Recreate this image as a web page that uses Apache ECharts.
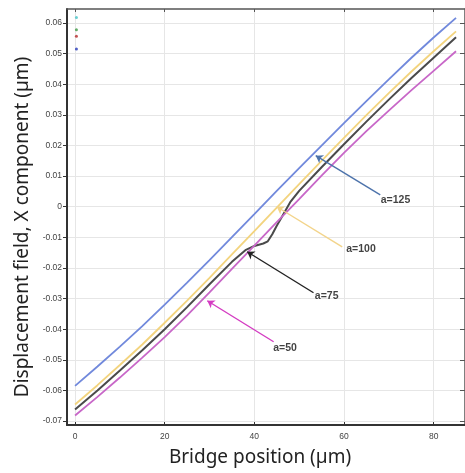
<!DOCTYPE html>
<html>
<head>
<meta charset="utf-8">
<title>Displacement field</title>
<script src="https://cdn.jsdelivr.net/npm/echarts@6/dist/echarts.min.js"></script>
<style>
  html, body { margin: 0; padding: 0; background: #fff; }
  #chart { width: 465px; height: 473px; }
</style>
</head>
<body>
<div id="chart"></div>
<script>
// values
var xPos = [0, 5, 10, 15, 20, 25, 30, 35, 40, 45, 50, 55, 60, 65, 70, 75, 80, 85];
var a125 = [-0.0585, -0.0522, -0.0457, -0.0390, -0.0320, -0.0248, -0.0174, -0.0099, -0.0024, 0.0052, 0.0126, 0.0200, 0.0273, 0.0345, 0.0416, 0.0486, 0.0553, 0.0617];
var a100 = [-0.0646, -0.0583, -0.0517, -0.0450, -0.0379, -0.0307, -0.0232, -0.0156, -0.0080, -0.0003, 0.0074, 0.0150, 0.0225, 0.0299, 0.0371, 0.0441, 0.0508, 0.0573];
var a50  = [-0.0682, -0.0621, -0.0558, -0.0493, -0.0426, -0.0355, -0.0280, -0.0203, -0.0127, -0.0050, 0.0025, 0.0102, 0.0176, 0.0247, 0.0314, 0.0380, 0.0444, 0.0508];
// a=75 has a small kink near 40 um
var a75x = [0, 5, 10, 15, 20, 25, 30, 35, 38, 40, 42, 43, 44, 45, 46, 48, 50, 55, 60, 65, 70, 75, 80, 85];
var a75  = [-0.0662, -0.0600, -0.0535, -0.0469, -0.0400, -0.0328, -0.0253, -0.0180, -0.0142, -0.0128, -0.0120, -0.0113, -0.0090, -0.0062, -0.0037, 0.0015, 0.0052, 0.0129, 0.0204, 0.0278, 0.0350, 0.0420, 0.0487, 0.0554];

// small dots at top left
var dotVals = [0.0618, 0.0578, 0.0557, 0.0515];
var dotColors = ['#46c4c8', '#3c9a44', '#b42828', '#2638b8'];

// annotations
var annotText = ['a=125', 'a=100', 'a=75', 'a=50'];
var annotTail = [[68.1, 0.0039], [59.6, -0.0131], [53.2, -0.0281], [44.3, -0.0441]];
var annotHead = [[53.7, 0.0167], [45.0, 0.0000], [38.4, -0.0147], [29.5, -0.0307]];
var annotLabel = [[68.2, 0.0021], [60.5, -0.0139], [53.5, -0.0292], [44.2, -0.0462]];
var annotColor = ['#4d73ab', '#f3d48a', '#222222', '#d43cc2'];

var xTicks = [0, 20, 40, 60, 80];
var yTicks = [-0.07, -0.06, -0.05, -0.04, -0.03, -0.02, -0.01, 0, 0.01, 0.02, 0.03, 0.04, 0.05, 0.06];

function pairs(xs, ys) {
  return xs.map(function (x, i) { return [x, ys[i]]; });
}

var chart = echarts.init(document.getElementById('chart'));

var lineBase = {
  type: 'line',
  showSymbol: false,
  symbol: 'none',
  xAxisIndex: 0,
  yAxisIndex: 0,
  z: 3
};

var series = [
  Object.assign({}, lineBase, { name: 'a=125', data: pairs(xPos, a125), lineStyle: { color: '#7189dc', width: 1.8 } }),
  Object.assign({}, lineBase, { name: 'a=100', data: pairs(xPos, a100), lineStyle: { color: '#f3d47e', width: 1.8 } }),
  Object.assign({}, lineBase, { name: 'a=75', data: pairs(a75x, a75), lineStyle: { color: '#4a4a4a', width: 2 } }),
  Object.assign({}, lineBase, { name: 'a=50', data: pairs(xPos, a50), lineStyle: { color: '#c867c8', width: 1.8 } }),
  {
    type: 'scatter',
    symbolSize: 3,
    z: 4,
    data: dotVals.map(function (v, i) {
      return { value: [0.3, v], itemStyle: { color: dotColors[i] } };
    })
  },
  {
    type: 'scatter',
    symbolSize: 0,
    z: 5,
    data: annotLabel.map(function (p, i) { return { value: p, name: annotText[i] }; }),
    label: {
      show: true,
      position: 'right',
      distance: 0,
      formatter: '{b}',
      color: '#111',
      fontSize: 10.5,
      fontWeight: 'bold',
      fontFamily: 'Liberation Sans, Arial, sans-serif'
    },
    markLine: {
      silent: true,
      symbol: ['none', 'arrow'],
      symbolSize: 7,
      label: { show: false },
      animation: false,
      data: annotTail.map(function (t, i) {
        return [
          { coord: t, lineStyle: { color: annotColor[i], width: 1.4, type: 'solid' } },
          { coord: annotHead[i] }
        ];
      })
    }
  }
];

var labelFont = { fontSize: 8.5, color: '#444', fontFamily: 'Liberation Sans, Arial, sans-serif' };

var option = {
  animation: false,
  backgroundColor: '#fff',
  grid: { left: 67, right: -3, top: 9, bottom: 48 },
  xAxis: [{
    type: 'value',
    min: -1.8,
    max: 87,
    name: 'Bridge position (µm)',
    nameLocation: 'middle',
    nameGap: 23,
    nameTextStyle: { fontSize: 19, color: '#222', fontFamily: 'Noto Sans, Open Sans, sans-serif', padding: [0, 12, 0, 0] },
    axisLine: { show: true, onZero: false, lineStyle: { color: '#333', width: 2 } },
    axisTick: { show: true, inside: true, length: 3, customValues: xTicks, lineStyle: { color: '#333' } },
    axisLabel: Object.assign({ customValues: xTicks, margin: 7 }, labelFont),
    splitLine: { show: true, lineStyle: { color: '#e6e6e6', width: 1 } }
  }, {
    type: 'value',
    position: 'top',
    min: -1.8,
    max: 87,
    axisLine: { show: true, onZero: false, lineStyle: { color: '#555', width: 1.5 } },
    axisTick: { show: true, inside: true, length: 3, customValues: xTicks, lineStyle: { color: '#555' } },
    axisLabel: { show: false },
    splitLine: { show: false }
  }],
  yAxis: [{
    type: 'value',
    min: -0.0713,
    max: 0.0646,
    splitNumber: 14,
    name: 'Displacement field, X component (µm)',
    nameLocation: 'middle',
    nameGap: 30,
    nameTextStyle: { fontSize: 19, color: '#222', fontFamily: 'Noto Sans, Open Sans, sans-serif', padding: [0, 20, 0, 0] },
    axisLine: { show: true, onZero: false, lineStyle: { color: '#333', width: 2 } },
    axisTick: { show: true, inside: false, length: 4, customValues: yTicks, lineStyle: { color: '#333' } },
    axisLabel: Object.assign({
      customValues: yTicks,
      margin: 5,
      formatter: function (v) { return String(Math.round(v * 100) / 100); }
    }, labelFont),
    splitLine: { show: true, lineStyle: { color: '#e6e6e6', width: 1 } }
  }, {
    type: 'value',
    position: 'right',
    min: -0.0713,
    max: 0.0646,
    splitNumber: 14,
    axisLine: { show: true, onZero: false, lineStyle: { color: '#555', width: 1.5 } },
    axisTick: { show: true, inside: true, length: 5, customValues: yTicks, lineStyle: { color: '#555' } },
    axisLabel: { show: false },
    splitLine: { show: false }
  }],
  series: series
};

chart.setOption(option);
</script>
</body>
</html>
